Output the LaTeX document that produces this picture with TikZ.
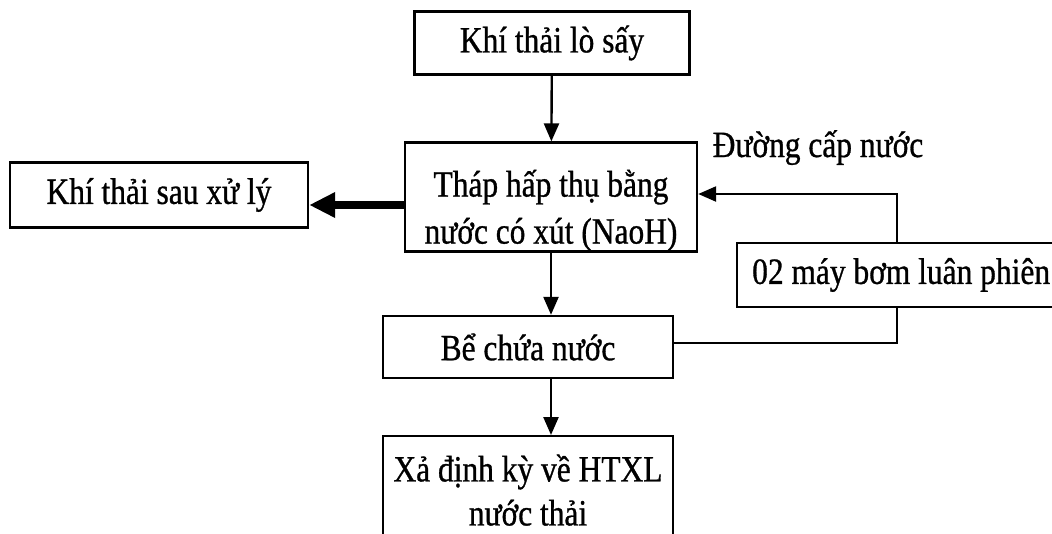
\documentclass[tikz,border=0pt]{standalone}
\usepackage{fontspec}
\setmainfont{Liberation Serif}[FakeStretch=0.85,FakeBold=0.8]
\usetikzlibrary{arrows.meta,positioning}

\begin{document}
\begin{tikzpicture}[x=1pt,y=-1pt,
  box/.style={draw,line width=2.4pt,align=center,inner sep=0pt,
    font=\fontsize{37}{47}\selectfont},
  lbl/.style={inner sep=0pt,font=\fontsize{37}{47}\selectfont},
  flow/.style={line width=2.4pt,-{Triangle[length=18pt,width=15pt]}},
  bigflow/.style={line width=8pt,-{Triangle[length=26pt,width=24pt]}}]
  \clip (0,0) rectangle (1052,533);
  % process boxes
  \node[box,minimum width=275,minimum height=63] (lo) at (552,43) {Khí thải lò sấy};
  \node[box,minimum width=292,minimum height=104] (thap) at (551,197)
    {\rule{0pt}{54pt}Tháp hấp thụ bằng\\nước có xút (NaoH)};
  \node[box,minimum width=298,minimum height=65] (sau) at (159,195) {Khí thải sau xử lý};
  \node[box,minimum width=290,minimum height=62] (be) at (528,347) {Bể chứa nước};
  \node[box,inner xsep=15pt,minimum height=64,anchor=west] (bom) at (736,275)
    {02 máy bơm luân phiên};
  \node[box,minimum width=290,minimum height=108,anchor=north,
    font=\fontsize{37}{44}\selectfont] (xa) at (528,435)
    {Xả định kỳ về HTXL\\nước thải};
  \node[lbl,anchor=base] (duong) at (818,157) {Đường cấp nước};
  % pipe riser
  \coordinate (ong) at (897,200);
  % connectors
  \draw[flow] (lo) -- (thap);
  \draw[bigflow] ([yshift=-8pt]thap.west) -- ([yshift=-8pt]thap.west -| sau.east);
  \draw[flow] (thap.south) -- (thap.south |- be.north);
  \draw[flow] (thap.south |- be.south) -- (thap.south |- xa.north);
  \draw[line width=2.4pt] ([yshift=4pt]be.east) -| (ong |- bom.south);
  \draw[flow] (ong |- bom.north) |- ([yshift=3pt]thap.east);
\end{tikzpicture}
\end{document}
